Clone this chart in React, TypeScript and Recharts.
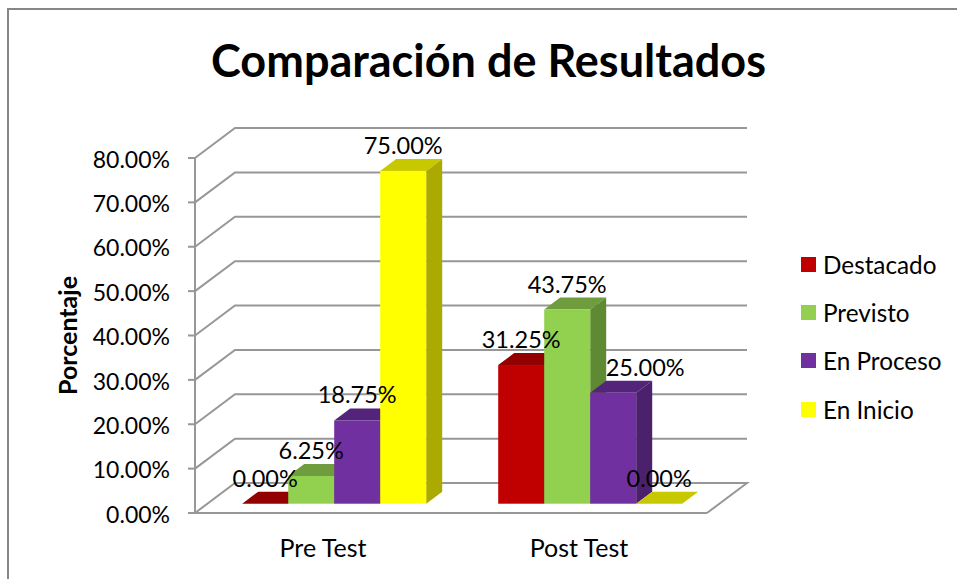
import React from 'react';
import { BarChart, Bar, XAxis, YAxis, CartesianGrid, Legend, LabelList } from 'recharts';

const CATEGORIES = ['Pre Test', 'Post Test'];
const SERIES_NAMES = ['Destacado', 'Previsto', 'En Proceso', 'En Inicio'];
const DESTACADO = [0, 31.25];
const PREVISTO = [6.25, 43.75];
const EN_PROCESO = [18.75, 25];
const EN_INICIO = [75, 0];
const Y_TICKS = [0, 10, 20, 30, 40, 50, 60, 70, 80];

const rows = CATEGORIES.map((name, i) => ({
  name,
  Destacado: DESTACADO[i],
  Previsto: PREVISTO[i],
  'En Proceso': EN_PROCESO[i],
  'En Inicio': EN_INICIO[i],
}));

const FRONT = ['#C00000', '#92D050', '#7030A0', '#FFFF00'];
const TOP = ['#930000', '#6F9D3D', '#54247A', '#C8C800'];
const SIDE = ['#7A0000', '#5F8A34', '#4B206C', '#AAAA00'];

const FONT = 'Lato, sans-serif';
const GRID = '#979797';
// wall depth and bar depth of the fake 3D box
const WALL_X = 40;
const WALL_Y = 30;
const BAR_X = 12;
const BAR_Y = 9.3;
const DEPTH_X = 16;
const DEPTH_Y = 12;

const pct = (v: number) => `${v.toFixed(2)}%`;

function bar3d(top: string, side: string) {
  return (p: any) => {
    const x = p.x + BAR_X;
    const y = p.y - BAR_Y;
    const w = p.width;
    const h = p.height;
    return (
      <g>
        <polygon points={`${x},${y} ${x + DEPTH_X},${y - DEPTH_Y} ${x + w + DEPTH_X},${y - DEPTH_Y} ${x + w},${y}`} fill={top} />
        <polygon points={`${x + w},${y} ${x + w + DEPTH_X},${y - DEPTH_Y} ${x + w + DEPTH_X},${y + h - DEPTH_Y} ${x + w},${y + h}`} fill={side} />
        <rect x={x} y={y} width={w} height={h} fill={p.fill} />
      </g>
    );
  };
}

function gridLine(p: any) {
  const { x1, x2, y1 } = p;
  const isFloor = y1 > 512;
  const d = isFloor
    ? `M${x1},${y1} L${x1 + WALL_X},${y1 - WALL_Y} L${x2 + WALL_X},${y1 - WALL_Y} L${x2},${y1}`
    : `M${x1},${y1} L${x1 + WALL_X},${y1 - WALL_Y} L${x2 + WALL_X},${y1 - WALL_Y}`;
  return <path key={p.key ?? y1} d={d} fill="none" stroke={GRID} strokeWidth={2} />;
}

function barLabel(p: any) {
  // the 25.00% label was dragged off its bar in the original
  const nudge = p.value === 25 ? 32 : 0;
  return (
    <text
      x={p.x + p.width / 2 + BAR_X + nudge}
      y={p.y - BAR_Y - 26}
      textAnchor="middle"
      dominantBaseline="central"
      fontFamily={FONT}
      fontSize={23.5}
      fill="#000"
    >
      {pct(p.value)}
    </text>
  );
}

function legendBox(p: any) {
  return (
    <div style={{ fontFamily: FONT, fontSize: 24.3, color: '#000' }}>
      {p.payload.map((item: any) => (
        <div key={item.value} style={{ display: 'flex', alignItems: 'center', height: 48.3 }}>
          <span style={{ width: 15, height: 15, background: item.color, marginRight: 7 }} />
          <span>{item.value}</span>
        </div>
      ))}
    </div>
  );
}

const SERIES_VALUES = SERIES_NAMES.map((name, i) => ({ name, front: FRONT[i], top: TOP[i], side: SIDE[i] }));

export default function App() {
  return (
    <div style={{ position: 'absolute', left: 0, top: 0, width: 957, height: 579, background: '#fff', overflow: 'hidden' }}>
      <div style={{ position: 'absolute', left: 7, top: 8, right: 0, bottom: 0, borderLeft: '2px solid #868686', borderTop: '2px solid #868686' }} />
      <div
        style={{
          position: 'absolute',
          left: 0,
          width: 977,
          top: 32,
          textAlign: 'center',
          fontFamily: FONT,
          fontWeight: 700,
          fontSize: 45,
          lineHeight: '56px',
          color: '#000',
        }}
      >
        Comparación de Resultados
      </div>
      <BarChart
        width={957}
        height={579}
        data={rows}
        margin={{ top: 158, right: 250, bottom: 0, left: 0 }}
        barGap={0}
        barCategoryGap={35.2}
        style={{ position: 'absolute', left: 0, top: 0 }}
      >
        <CartesianGrid vertical={false} horizontal={gridLine} />
        <XAxis
          dataKey="name"
          height={66}
          tickLine={false}
          axisLine={{ stroke: GRID, strokeWidth: 2 }}
          tick={{ fontFamily: FONT, fontSize: 25, fill: '#000', dy: 18 }}
        />
        <YAxis
          width={195}
          domain={[0, 80]}
          ticks={Y_TICKS}
          tickFormatter={pct}
          interval={0}
          tickSize={7}
          tickMargin={18}
          axisLine={{ stroke: GRID, strokeWidth: 2 }}
          tickLine={{ stroke: GRID, strokeWidth: 2 }}
          tick={{ fontFamily: FONT, fontSize: 23, fill: '#000', dy: 1.5 }}
          label={{
            content: (p: any) => (
              <text
                transform={`translate(67 ${p.viewBox.y + p.viewBox.height / 2}) rotate(-90)`}
                textAnchor="middle"
                dominantBaseline="central"
                fontFamily={FONT}
                fontWeight={700}
                fontSize={25}
                fill="#000"
              >
                Porcentaje
              </text>
            ),
          }}
        />
        <Legend
          layout="vertical"
          align="center"
          verticalAlign="middle"
          itemSorter={null}
          wrapperStyle={{ left: 801, top: 240, width: 156 }}
          content={legendBox}
        />
        {SERIES_VALUES.map((s) => (
          <Bar key={s.name} dataKey={s.name} fill={s.front} shape={bar3d(s.top, s.side)} isAnimationActive={false}>
            <LabelList dataKey={s.name} content={barLabel} />
          </Bar>
        ))}
      </BarChart>
    </div>
  );
}
